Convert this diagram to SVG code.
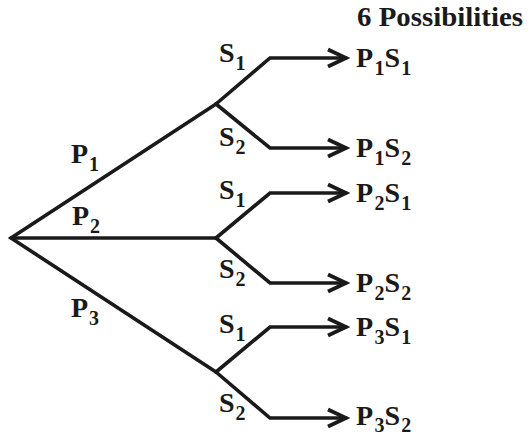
<svg xmlns="http://www.w3.org/2000/svg" width="532" height="436" viewBox="0 0 532 436">
<style>
.ln{fill:none;stroke:#1a1a1a;stroke-width:3.6;stroke-linejoin:miter;stroke-linecap:round}
.ar{marker-end:url(#chev)}
text{font-family:"Liberation Serif","Times New Roman",serif;font-weight:bold;fill:#1a1a1a;font-size:28px}
.sub{font-size:20px}
</style>
<defs>
<marker id="chev" markerUnits="userSpaceOnUse" markerWidth="24" markerHeight="24" refX="20" refY="10" orient="auto" viewBox="0 0 24 20" overflow="visible">
<polyline points="2,1.5 20,10 2,18.5" fill="none" stroke="#1a1a1a" stroke-width="3.8" stroke-linejoin="miter" stroke-linecap="butt"/>
</marker>
</defs>
<rect width="532" height="436" fill="#ffffff"/>
<g id="connectors">
<path class="ln" d="M216,104 L11,238 L216,372"/>
<path class="ln" d="M11,238 H216"/>
<path class="ln ar" d="M216,104 L270,58 H346"/>
<path class="ln ar" d="M216,104 L270,148 H346"/>
<path class="ln ar" d="M216,238 L270,193 H346"/>
<path class="ln ar" d="M216,238 L270,283 H346"/>
<path class="ln ar" d="M216,372 L270,327 H346"/>
<path class="ln ar" d="M216,372 L270,418 H346"/>
</g>
<g id="title"><text x="357" y="26" style="font-size:27px" textLength="166" lengthAdjust="spacingAndGlyphs">6 Possibilities</text></g>
<g id="label-P1"><text x="71" y="163">P<tspan class="sub" dx="1" dy="8">1</tspan></text></g>
<g id="label-P2"><text x="72" y="225">P<tspan class="sub" dx="1" dy="8">2</tspan></text></g>
<g id="label-P3"><text x="71" y="317">P<tspan class="sub" dx="1" dy="8">3</tspan></text></g>
<g id="label-n1-S1"><text x="219" y="62">S<tspan class="sub" dx="1" dy="8">1</tspan></text></g>
<g id="label-n1-S2"><text x="219" y="146">S<tspan class="sub" dx="1" dy="8">2</tspan></text></g>
<g id="label-n2-S1"><text x="219" y="199">S<tspan class="sub" dx="1" dy="8">1</tspan></text></g>
<g id="label-n2-S2"><text x="219" y="278">S<tspan class="sub" dx="1" dy="8">2</tspan></text></g>
<g id="label-n3-S1"><text x="219" y="333">S<tspan class="sub" dx="1" dy="8">1</tspan></text></g>
<g id="label-n3-S2"><text x="219" y="412">S<tspan class="sub" dx="1" dy="8">2</tspan></text></g>
<g id="out-P1S1"><text x="356" y="67">P<tspan class="sub" dx="1.5" dy="8">1</tspan><tspan dy="-8">S</tspan><tspan class="sub" dx="1" dy="8">1</tspan></text></g>
<g id="out-P1S2"><text x="356" y="157">P<tspan class="sub" dx="1.5" dy="8">1</tspan><tspan dy="-8">S</tspan><tspan class="sub" dx="1" dy="8">2</tspan></text></g>
<g id="out-P2S1"><text x="356" y="202">P<tspan class="sub" dx="1.5" dy="8">2</tspan><tspan dy="-8">S</tspan><tspan class="sub" dx="1" dy="8">1</tspan></text></g>
<g id="out-P2S2"><text x="356" y="292">P<tspan class="sub" dx="1.5" dy="8">2</tspan><tspan dy="-8">S</tspan><tspan class="sub" dx="1" dy="8">2</tspan></text></g>
<g id="out-P3S1"><text x="356" y="336">P<tspan class="sub" dx="1.5" dy="8">3</tspan><tspan dy="-8">S</tspan><tspan class="sub" dx="1" dy="8">1</tspan></text></g>
<g id="out-P3S2"><text x="356" y="425">P<tspan class="sub" dx="1.5" dy="7">3</tspan><tspan dy="-7">S</tspan><tspan class="sub" dx="1" dy="7">2</tspan></text></g>
</svg>
